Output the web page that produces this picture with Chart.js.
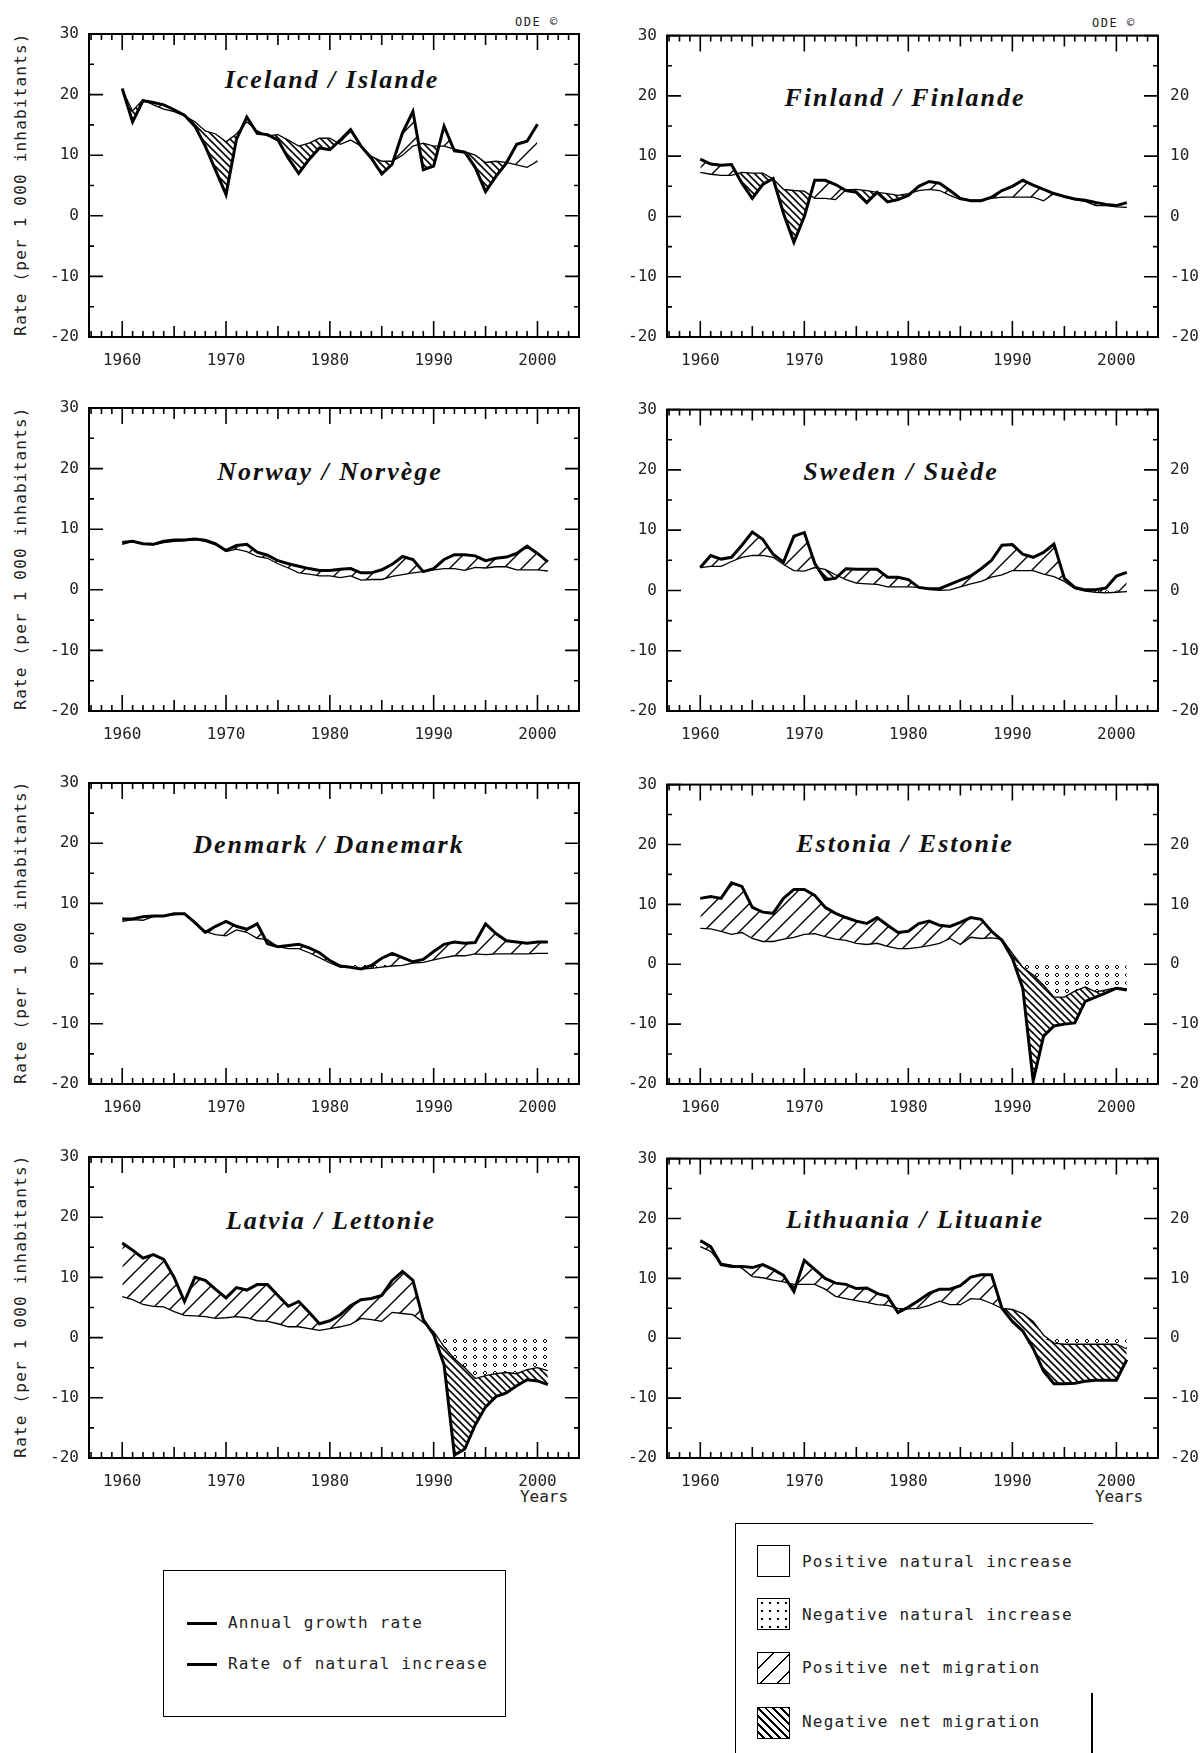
<!DOCTYPE html>
<html>
<head>
<meta charset="utf-8">
<script src="https://cdn.jsdelivr.net/npm/chart.js@4.4.1/dist/chart.umd.min.js"></script>
<style>
body { margin: 0; background: #fff; }
#page { position: relative; width: 1204px; height: 1753px; overflow: hidden; background: #fff; }
#page canvas { position: absolute; }
.ttl { position: absolute; width: 400px; text-align: center; font: italic bold 26px 'Liberation Serif', serif; letter-spacing: 2px; line-height: 26px; white-space: nowrap; color: #111; }
.mono { position: absolute; font-family: 'DejaVu Sans Mono', monospace; color: #222; white-space: nowrap; }
.ytl { width: 340px; text-align: center; font-size: 16px; letter-spacing: 1.2px; line-height: 20px; transform: rotate(-90deg); }
.leg { font-size: 16px; letter-spacing: 1.2px; line-height: 20px; }
.small { font-size: 12px; letter-spacing: 1.5px; line-height: 14px; }
.yrs { font-size: 16px; line-height: 16px; width: 60px; text-align: center; }
.sw { position: absolute; left: 757px; width: 31px; height: 30px; border: 1.5px solid #000; background: #fff; }
</style>
</head>
<body>
<div id="page">
  <!-- country titles -->
  <div class="ttl" style="left:132px;top:67px">Iceland / Islande</div>
  <div class="ttl" style="left:705px;top:85px">Finland / Finlande</div>
  <div class="ttl" style="left:130px;top:459px">Norway / Norvège</div>
  <div class="ttl" style="left:701px;top:459px">Sweden / Suède</div>
  <div class="ttl" style="left:129px;top:832px">Denmark / Danemark</div>
  <div class="ttl" style="left:705px;top:831px">Estonia / Estonie</div>
  <div class="ttl" style="left:131px;top:1208px">Latvia / Lettonie</div>
  <div class="ttl" style="left:715px;top:1207px">Lithuania / Lituanie</div>

  <!-- y axis titles -->
  <div class="mono ytl" style="left:-149px;top:174px">Rate (per 1 000 inhabitants)</div>
  <div class="mono ytl" style="left:-149px;top:548px">Rate (per 1 000 inhabitants)</div>
  <div class="mono ytl" style="left:-149px;top:922px">Rate (per 1 000 inhabitants)</div>
  <div class="mono ytl" style="left:-149px;top:1296px">Rate (per 1 000 inhabitants)</div>

  <div class="mono small" style="left:515px;top:15px">ODE ©</div>
  <div class="mono small" style="left:1092px;top:16px">ODE ©</div>
  <div class="mono yrs" style="left:514px;top:1489px">Years</div>
  <div class="mono yrs" style="left:1089px;top:1489px">Years</div>

  <!-- line legend -->
  <div style="position:absolute;left:163px;top:1570px;width:341px;height:145px;border:1.5px solid #000"></div>
  <div style="position:absolute;left:187px;top:1622px;width:30px;height:3px;background:#000"></div>
  <div class="mono leg" style="left:228px;top:1613px">Annual growth rate</div>
  <div style="position:absolute;left:187px;top:1663px;width:30px;height:3px;background:#000"></div>
  <div class="mono leg" style="left:228px;top:1654px">Rate of natural increase</div>

  <!-- area legend -->
  <div style="position:absolute;left:735px;top:1523px;width:357px;height:240px;border-top:1.5px solid #000;border-left:1.5px solid #000"></div>
  <div style="position:absolute;left:1091px;top:1693px;width:1.5px;height:60px;background:#000"></div>
  <div class="sw" style="top:1545px"></div>
  <div class="sw" style="top:1598px;background-image:radial-gradient(circle, #000 0 1.1px, transparent 1.6px);background-size:8px 8px"></div>
  <div class="sw" style="top:1652px;background-image:repeating-linear-gradient(135deg, transparent 0 10px, #000 10px 12px)"></div>
  <div class="sw" style="top:1707px;background-image:repeating-linear-gradient(45deg, transparent 0 3.5px, #000 3.5px 5.5px)"></div>
  <div class="mono leg" style="left:802px;top:1552px">Positive natural increase</div>
  <div class="mono leg" style="left:802px;top:1605px">Negative natural increase</div>
  <div class="mono leg" style="left:802px;top:1658px">Positive net migration</div>
  <div class="mono leg" style="left:802px;top:1712px">Negative net migration</div>
</div>

<script>
// years and tick labels
const years = [1960, 1961, 1962, 1963, 1964, 1965, 1966, 1967, 1968, 1969,
  1970, 1971, 1972, 1973, 1974, 1975, 1976, 1977, 1978, 1979,
  1980, 1981, 1982, 1983, 1984, 1985, 1986, 1987, 1988, 1989,
  1990, 1991, 1992, 1993, 1994, 1995, 1996, 1997, 1998, 1999,
  2000, 2001];
const xTickLabels = [1960, 1970, 1980, 1990, 2000];
const yTickLabels = [30, 20, 10, 0, -10, -20];
const yRightTickLabels = [20, 10, 0, -10, -20];

// annual growth rate / rate of natural increase, per 1 000 inhabitants
const icelandGrowth = [21, 15.5, 19, 18.7, 18.3, 17.5, 16.6, 14.8, 11.5, 7.5,
  3.5, 12.6, 16.3, 13.6, 13.4, 12.5, 9.5, 7, 9.3, 11.2,
  10.9, 12.5, 14.2, 11.5, 9.5, 6.9, 8.5, 13.7, 17.2, 7.6,
  8.2, 14.8, 10.7, 10.5, 8, 4, 6.5, 8.7, 11.8, 12.3, 15.1];
const icelandNatural = [20.8, 17.3, 19.2, 18.3, 17.6, 17.2, 16.5, 15.5, 14, 13.5,
  12.2, 13.5, 15.5, 14, 13.2, 13.4, 12.5, 11.5, 12, 12.8,
  12.8, 11.8, 12.5, 11.5, 9.8, 9, 9, 10, 11.5, 12,
  11.5, 11.5, 11, 10.6, 10, 8.8, 9, 8.8, 8.4, 8, 9];

const finlandGrowth = [9.5, 8.7, 8.5, 8.6, 5.5, 3, 5.3, 6.3, 0.5, -4.3,
  0, 6, 6, 5.3, 4.3, 4, 2.3, 4, 2.4, 2.8,
  3.5, 5, 5.8, 5.5, 4.3, 3, 2.6, 2.6, 3.2, 4.3,
  5, 6, 5.2, 4.5, 3.8, 3.3, 2.9, 2.7, 2.3, 2, 1.8, 2.3];
const finlandNatural = [7.3, 7, 6.8, 6.8, 7.3, 7.2, 7.2, 6.2, 4.5, 4.3,
  4.2, 3, 3, 2.8, 4.4, 4.5, 4.3, 4, 3.8, 3.5,
  3.8, 4.3, 4.5, 4.3, 3.5, 2.8, 2.7, 2.7, 3, 3.2,
  3.2, 3.2, 3.2, 2.6, 3.8, 3.2, 2.8, 2.5, 1.8, 1.8, 1.6, 1.5];

const norwayGrowth = [7.8, 8, 7.6, 7.5, 8, 8.2, 8.2, 8.4, 8.2, 7.6,
  6.5, 7.3, 7.5, 6.2, 5.7, 4.8, 4.3, 3.9, 3.5, 3.2,
  3.2, 3.4, 3.5, 2.8, 2.8, 3.3, 4.2, 5.5, 5, 3,
  3.5, 5, 5.8, 5.8, 5.6, 4.8, 5.2, 5.4, 6, 7.2, 6, 4.6];
const norwayNatural = [7.5, 8, 7.6, 7.4, 7.8, 8, 8.1, 8.3, 8, 7.4,
  6.3, 6.7, 6.3, 5.5, 5.2, 4.3, 3.6, 2.8, 2.6, 2.3,
  2.3, 2, 2.3, 1.6, 1.7, 1.7, 2.2, 2.5, 2.8, 3,
  3.3, 3.5, 3.5, 3.2, 3.7, 3.6, 3.8, 3.8, 3.3, 3.3, 3.3, 3.1];

const swedenGrowth = [3.8, 5.8, 5.2, 5.5, 7.5, 9.7, 8.5, 6, 4.7, 9,
  9.6, 4.5, 1.8, 2, 3.6, 3.5, 3.5, 3.5, 2.2, 2.2,
  1.8, 0.5, 0.3, 0.3, 1, 1.7, 2.4, 3.6, 5, 7.5,
  7.6, 6, 5.5, 6.3, 7.7, 2, 0.5, 0.1, 0.1, 0.4, 2.4, 3];
const swedenNatural = [3.8, 4, 4, 4.8, 5.5, 5.8, 5.8, 5.5, 4.3, 3.3,
  3.2, 3.8, 3.5, 2.6, 1.8, 1.2, 1.1, 1, 0.6, 0.6,
  0.6, 0.5, 0.2, 0, 0.1, 0.6, 1.1, 1.5, 2.2, 2.6,
  3.3, 3.3, 3.3, 2.7, 2.3, 1.5, 0.3, -0.1, -0.3, -0.4, -0.3, -0.2];

const denmarkGrowth = [7.4, 7.4, 7.8, 7.9, 7.9, 8.3, 8.3, 6.8, 5.2, 6.2,
  7, 6.2, 5.7, 6.6, 3.3, 2.8, 3, 3.2, 2.6, 1.8,
  0.5, -0.4, -0.6, -0.9, -0.3, 0.9, 1.7, 1, 0.3, 0.7,
  2, 3.2, 3.6, 3.4, 3.5, 6.6, 5, 3.8, 3.6, 3.4, 3.6, 3.6];
const denmarkNatural = [7, 7.3, 7.2, 7.8, 7.9, 8.1, 8.3, 7, 5.3, 4.8,
  4.6, 5.6, 5.2, 4.2, 4, 2.8, 2.5, 2.5, 1.8, 1,
  0.1, -0.6, -0.6, -0.9, -0.8, -0.6, -0.4, -0.3, 0.1, 0.2,
  0.6, 1, 1.3, 1.3, 1.6, 1.5, 1.6, 1.6, 1.6, 1.6, 1.7, 1.7];

const estoniaGrowth = [11, 11.3, 11, 13.6, 13, 9.5, 8.7, 8.5, 11, 12.5,
  12.5, 11.5, 9.5, 8.5, 7.8, 7.2, 6.8, 7.8, 6.5, 5.3,
  5.5, 6.8, 7.2, 6.5, 6.3, 7, 7.8, 7.5, 5.5, 4,
  1, -4, -19.5, -12, -10.3, -10, -9.8, -6.2, -5.5, -4.8, -4, -4.3];
const estoniaNatural = [6, 5.9, 5.5, 5, 5.3, 4.3, 3.8, 3.8, 4.2, 4.5,
  5, 5.1, 4.6, 4.2, 4, 3.5, 3.3, 3.5, 3, 2.6,
  2.6, 2.8, 3.1, 3.5, 4.3, 3.3, 4.5, 4.3, 4.4, 4.2,
  1.8, -0.5, -1.8, -3.5, -5.5, -5.5, -4.5, -3.8, -4.6, -4.3, -3.9, -4.1];

const latviaGrowth = [15.7, 14.5, 13.2, 13.8, 13, 10, 6, 10, 9.5, 8,
  6.6, 8.3, 7.9, 8.8, 8.8, 7, 5.2, 6, 4.2, 2.3,
  2.8, 3.8, 5.3, 6.3, 6.5, 7, 9.5, 11, 9.5, 3,
  0.5, -4.5, -19.5, -18.5, -14.5, -11.5, -9.8, -9.2, -8, -7, -7.2, -7.8];
const latviaNatural = [6.8, 6.3, 5.5, 5.2, 5.1, 4.3, 3.7, 3.6, 3.5, 3.2,
  3.3, 3.5, 3.3, 2.8, 2.7, 2.3, 1.8, 1.8, 1.5, 1.2,
  1.5, 1.8, 2.2, 3.2, 3, 2.7, 4.2, 4, 3.8, 2.5,
  1, -1.5, -3.5, -5, -6.8, -6.3, -6, -5.8, -6, -5.3, -5, -5.5];

const lithuaniaGrowth = [16.3, 15.3, 12.3, 12, 12, 11.8, 12.3, 11.5, 10.5, 7.8,
  13, 11.5, 10, 9.2, 9, 8.3, 8.4, 7.5, 7, 4.3,
  5.2, 6.3, 7.5, 8.2, 8.2, 8.8, 10.2, 10.6, 10.6, 5,
  2.8, 1.2, -1.7, -5.5, -7.6, -7.6, -7.5, -7.2, -7, -7, -7, -3.6];
const lithuaniaNatural = [15.3, 14.5, 12.5, 12.2, 11.7, 10.3, 10.1, 9.7, 9.4, 9,
  9, 9, 8.2, 7, 6.6, 6.3, 6, 5.6, 5.5, 5,
  4.9, 5, 5.5, 6.2, 5.6, 5.6, 6.6, 6.5, 5.8, 5,
  4.8, 4.1, 2.8, 0.5, -0.8, -1, -1, -1, -1, -1, -1, -1.8];

// fill patterns
function makePattern(w, h, draw) {
  const c = document.createElement('canvas');
  c.width = w;
  c.height = h;
  const g = c.getContext('2d');
  g.strokeStyle = '#000';
  draw(g);
  return g.createPattern(c, 'repeat');
}
const hatchUp = makePattern(18, 18, g => {
  g.lineWidth = 1.4;
  g.beginPath();
  g.moveTo(0, 18); g.lineTo(18, 0);
  g.moveTo(-2, 2); g.lineTo(2, -2);
  g.moveTo(16, 20); g.lineTo(20, 16);
  g.stroke();
});
const hatchDown = makePattern(7, 7, g => {
  g.lineWidth = 1.6;
  g.beginPath();
  g.moveTo(0, 0); g.lineTo(7, 7);
  g.moveTo(-1, 6); g.lineTo(1, 8);
  g.moveTo(6, -1); g.lineTo(8, 1);
  g.stroke();
});
const dots = makePattern(10, 8, g => {
  g.lineWidth = 1;
  g.beginPath();
  g.moveTo(5, 2); g.lineTo(7, 4); g.lineTo(5, 6); g.lineTo(3, 4); g.closePath();
  g.stroke();
});

// frame + inward tick marks
const frame = {
  id: 'frame',
  afterDraw(chart) {
    const { ctx, chartArea: a, scales: { x, y } } = chart;
    ctx.save();
    ctx.strokeStyle = '#000';
    ctx.lineWidth = 2;
    ctx.strokeRect(a.left, a.top, a.right - a.left, a.bottom - a.top);
    ctx.lineWidth = 1.6;
    ctx.beginPath();
    for (let yr = 1957; yr <= 2003; yr++) {
      const px = x.getPixelForValue(yr);
      const len = yr % 10 === 0 ? 16 : (yr % 5 === 0 ? 11 : 6);
      ctx.moveTo(px, a.top); ctx.lineTo(px, a.top + len);
      ctx.moveTo(px, a.bottom); ctx.lineTo(px, a.bottom - len);
    }
    for (let v = -20; v <= 30; v += 5) {
      const py = y.getPixelForValue(v);
      const len = v % 10 === 0 ? 14 : 5;
      ctx.moveTo(a.left, py); ctx.lineTo(a.left + len, py);
      ctx.moveTo(a.right, py); ctx.lineTo(a.right - len, py);
    }
    ctx.stroke();
    ctx.restore();
  }
};

const tickFont = { family: 'DejaVu Sans Mono', size: 16 };
const rowTop = [34, 408, 783, 1157];
const rowBottom = [337, 711, 1084, 1458];

const panels = [
  { growth: icelandGrowth, natural: icelandNatural, col: 0, row: 0 },
  { growth: finlandGrowth, natural: finlandNatural, col: 1, row: 0 },
  { growth: norwayGrowth, natural: norwayNatural, col: 0, row: 1 },
  { growth: swedenGrowth, natural: swedenNatural, col: 1, row: 1 },
  { growth: denmarkGrowth, natural: denmarkNatural, col: 0, row: 2 },
  { growth: estoniaGrowth, natural: estoniaNatural, col: 1, row: 2 },
  { growth: latviaGrowth, natural: latviaNatural, col: 0, row: 3 },
  { growth: lithuaniaGrowth, natural: lithuaniaNatural, col: 1, row: 3 }
];

const toPoints = vals => vals.map((v, i) => ({ x: years[i], y: v }));

panels.forEach(p => {
  const right = p.col === 1;
  const top = rowTop[p.row] - 20;
  const h = rowBottom[p.row] - rowTop[p.row] + 20 + 42;
  const cv = document.createElement('canvas');
  cv.width = 602;
  cv.height = h;
  cv.style.left = (right ? 602 : 0) + 'px';
  cv.style.top = top + 'px';
  document.getElementById('page').appendChild(cv);

  const scales = {
    x: {
      type: 'linear', min: 1956.8, max: 2004,
      grid: { display: false, drawTicks: false },
      border: { display: false },
      afterBuildTicks: s => { s.ticks = xTickLabels.map(v => ({ value: v })); },
      afterFit: s => { s.height = 42; },
      ticks: { padding: 14, color: '#222', font: tickFont, maxRotation: 0, autoSkip: false,
        callback: v => String(v) }
    },
    y: {
      type: 'linear', min: -20, max: 30, position: 'left',
      grid: { display: false, drawTicks: false },
      border: { display: false },
      afterBuildTicks: s => { s.ticks = yTickLabels.map(v => ({ value: v })); },
      afterFit: s => { s.width = right ? 65 : 89; },
      ticks: { padding: 10, color: '#222', font: tickFont, autoSkip: false }
    }
  };
  if (right) {
    scales.y2 = {
      type: 'linear', min: -20, max: 30, position: 'right',
      grid: { display: false, drawTicks: false },
      border: { display: false },
      afterBuildTicks: s => { s.ticks = yRightTickLabels.map(v => ({ value: v })); },
      afterFit: s => { s.width = 46; },
      ticks: { padding: 12, color: '#222', font: tickFont, autoSkip: false }
    };
  }

  // negative part of natural increase, shaded down from zero
  const naturalLoss = p.natural.map(v => Math.min(v, 0));

  new Chart(cv.getContext('2d'), {
    type: 'line',
    data: {
      datasets: [
        {
          label: 'Annual growth rate',
          data: toPoints(p.growth),
          borderColor: '#000',
          borderWidth: 3,
          pointRadius: 0,
          tension: 0,
          fill: { target: 1, above: hatchUp, below: hatchDown }
        },
        {
          label: 'Rate of natural increase',
          data: toPoints(p.natural),
          borderColor: '#000',
          borderWidth: 1.3,
          pointRadius: 0,
          tension: 0,
          fill: false
        },
        {
          label: 'Negative natural increase',
          data: toPoints(naturalLoss),
          borderWidth: 0,
          borderColor: 'rgba(0,0,0,0)',
          backgroundColor: dots,
          pointRadius: 0,
          tension: 0,
          fill: { target: { value: 0 } }
        }
      ]
    },
    options: {
      responsive: false,
      animation: false,
      devicePixelRatio: 1,
      layout: { padding: { top: 20, right: right ? 0 : 23, left: 0, bottom: 0 } },
      plugins: {
        legend: { display: false },
        tooltip: { enabled: false }
      },
      scales: scales
    },
    plugins: [frame]
  });
});
</script>
</body>
</html>
